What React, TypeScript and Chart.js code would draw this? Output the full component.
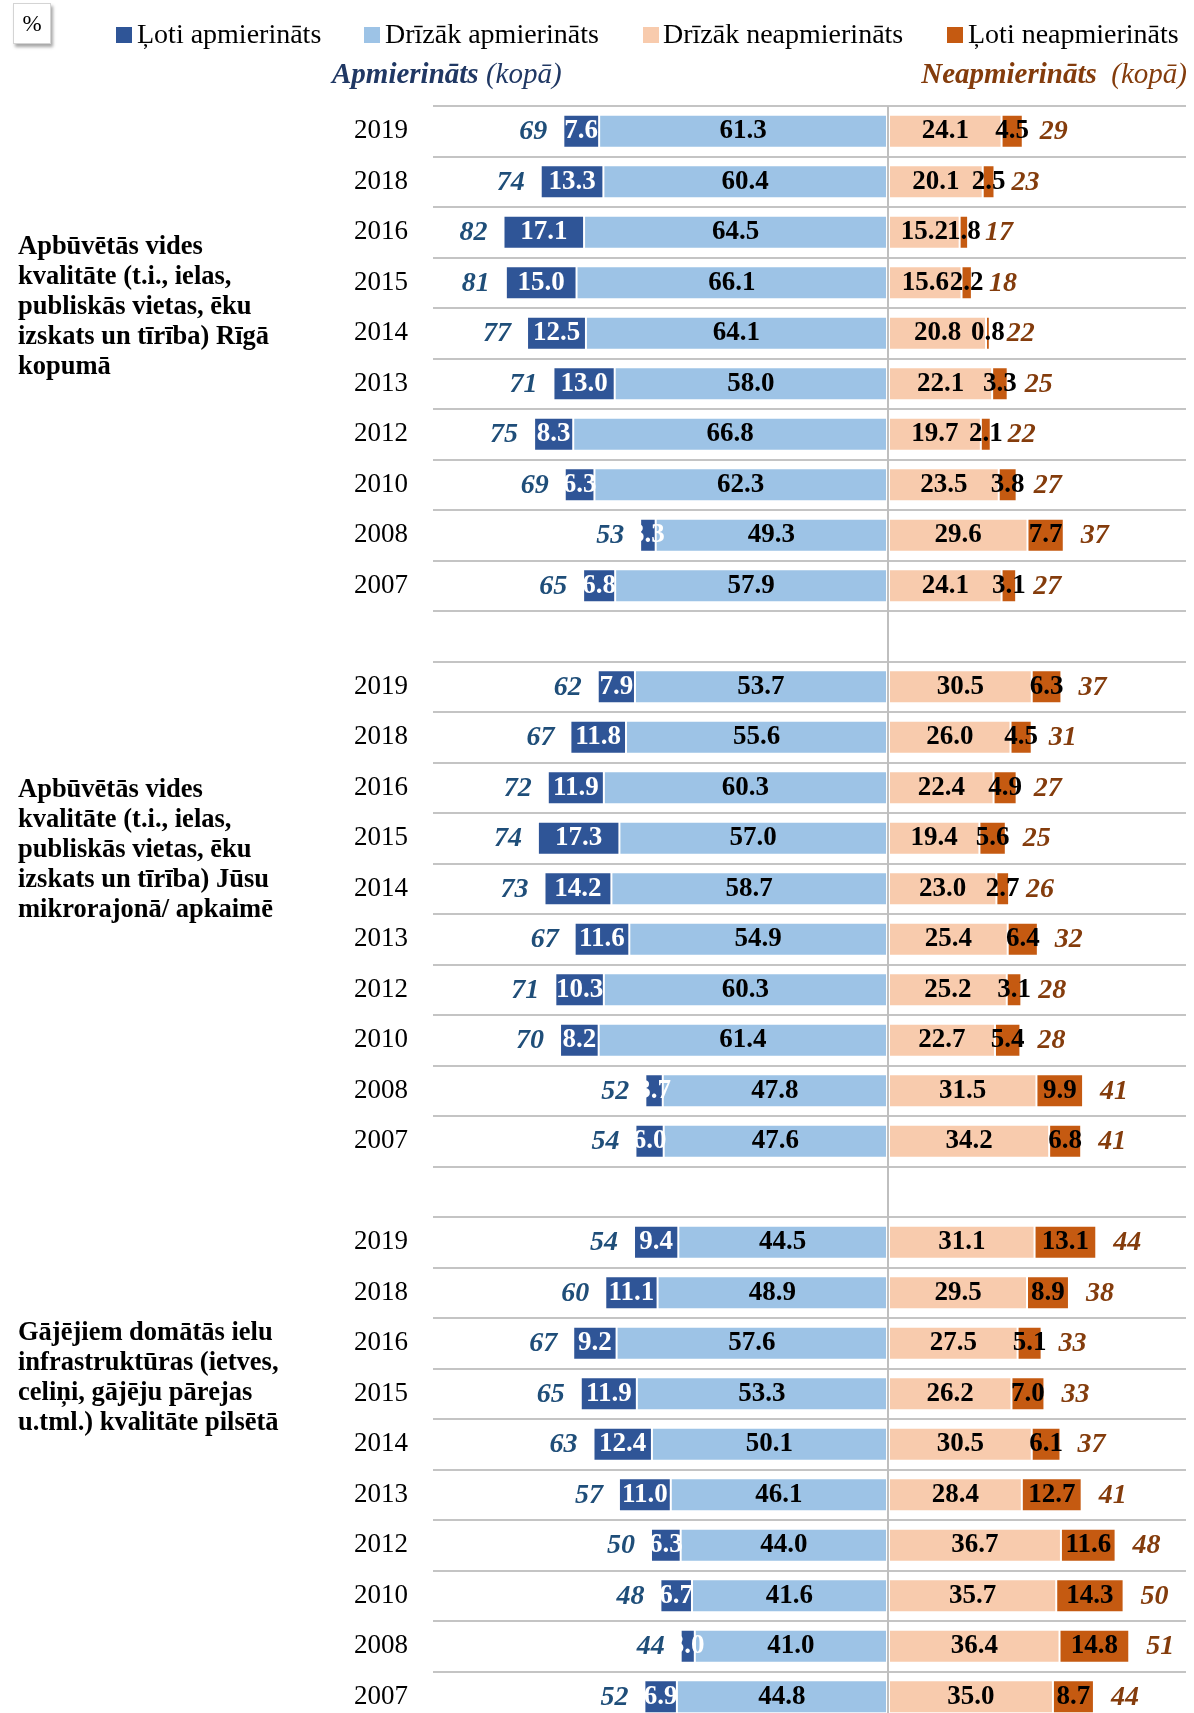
import React, { useEffect, useRef } from 'react';
import { Chart, registerables } from 'chart.js';

Chart.register(...registerables);

const SERIF = '"Liberation Serif", "Times New Roman", serif';

// Years (rows inside each block)
const years = ['2019', '2018', '2016', '2015', '2014', '2013', '2012', '2010', '2008', '2007'];

// Block 1: Apbūvētās vides kvalitāte ... Rīgā kopumā
const g1VerySat = [7.6, 13.3, 17.1, 15.0, 12.5, 13.0, 8.3, 6.3, 3.3, 6.8];
const g1RatherSat = [61.3, 60.4, 64.5, 66.1, 64.1, 58.0, 66.8, 62.3, 49.3, 57.9];
const g1RatherDis = [24.1, 20.1, 15.2, 15.6, 20.8, 22.1, 19.7, 23.5, 29.6, 24.1];
const g1VeryDis = [4.5, 2.5, 1.8, 2.2, 0.8, 3.3, 2.1, 3.8, 7.7, 3.1];
const g1TotalSat = [69, 74, 82, 81, 77, 71, 75, 69, 53, 65];
const g1TotalDis = [29, 23, 17, 18, 22, 25, 22, 27, 37, 27];

// Block 2: ... Jūsu mikrorajonā/ apkaimē
const g2VerySat = [7.9, 11.8, 11.9, 17.3, 14.2, 11.6, 10.3, 8.2, 3.7, 6.0];
const g2RatherSat = [53.7, 55.6, 60.3, 57.0, 58.7, 54.9, 60.3, 61.4, 47.8, 47.6];
const g2RatherDis = [30.5, 26.0, 22.4, 19.4, 23.0, 25.4, 25.2, 22.7, 31.5, 34.2];
const g2VeryDis = [6.3, 4.5, 4.9, 5.6, 2.7, 6.4, 3.1, 5.4, 9.9, 6.8];
const g2TotalSat = [62, 67, 72, 74, 73, 67, 71, 70, 52, 54];
const g2TotalDis = [37, 31, 27, 25, 26, 32, 28, 28, 41, 41];

// Block 3: Gājējiem domātās ielu infrastruktūras ... kvalitāte pilsētā
const g3VerySat = [9.4, 11.1, 9.2, 11.9, 12.4, 11.0, 6.3, 6.7, 3.0, 6.9];
const g3RatherSat = [44.5, 48.9, 57.6, 53.3, 50.1, 46.1, 44.0, 41.6, 41.0, 44.8];
const g3RatherDis = [31.1, 29.5, 27.5, 26.2, 30.5, 28.4, 36.7, 35.7, 36.4, 35.0];
const g3VeryDis = [13.1, 8.9, 5.1, 7.0, 6.1, 12.7, 11.6, 14.3, 14.8, 8.7];
const g3TotalSat = [54, 60, 67, 65, 63, 57, 50, 48, 44, 52];
const g3TotalDis = [44, 38, 33, 33, 37, 41, 48, 50, 51, 44];

const legendLabels = ['Ļoti apmierināts', 'Drīzāk apmierināts', 'Drīzāk neapmierināts', 'Ļoti neapmierināts'];
const blockTitles = [
  ['Apbūvētās vides', 'kvalitāte (t.i., ielas,', 'publiskās vietas, ēku', 'izskats un tīrība) Rīgā', 'kopumā'],
  ['Apbūvētās vides', 'kvalitāte (t.i., ielas,', 'publiskās vietas, ēku', 'izskats un tīrība) Jūsu', 'mikrorajonā/ apkaimē'],
  ['Gājējiem domātās ielu', 'infrastruktūras (ietves,', 'celiņi, gājēju pārejas', 'u.tml.) kvalitāte pilsētā'],
];

const COL_VERY_SAT = '#2F5597';
const COL_RATHER_SAT = '#9DC3E6';
const COL_RATHER_DIS = '#F8CBAD';
const COL_VERY_DIS = '#C55A11';

type N = number | null;
const join = (a: N[], b: N[], c: N[]): N[] => [...a, null, ...b, null, ...c];
const neg = (arr: N[]): N[] => arr.map((v) => (v == null ? null : -v));

const categories = [...years, '', ...years, '', ...years];
const verySat = join(g1VerySat, g2VerySat, g3VerySat);
const ratherSat = join(g1RatherSat, g2RatherSat, g3RatherSat);
const ratherDis = join(g1RatherDis, g2RatherDis, g3RatherDis);
const veryDis = join(g1VeryDis, g2VeryDis, g3VeryDis);
const totalSat = join(g1TotalSat, g2TotalSat, g3TotalSat);
const totalDis = join(g1TotalDis, g2TotalDis, g3TotalDis);

const labelColors = ['#000000', '#FFFFFF', '#000000', '#000000'];

const labelPlugin = {
  id: 'segmentLabels',
  afterDatasetsDraw(chart: any) {
    const ctx = chart.ctx;
    ctx.save();
    ctx.textBaseline = 'middle';
    ctx.textAlign = 'center';
    ctx.font = `bold 27px ${SERIF}`;
    chart.data.datasets.forEach((ds: any, di: number) => {
      const meta = chart.getDatasetMeta(di);
      meta.data.forEach((el: any, i: number) => {
        const v = ds.data[i];
        if (v == null) return;
        const p = el.getProps(['x', 'base', 'y'], true);
        ctx.fillStyle = labelColors[di];
        ctx.fillText(Math.abs(v).toFixed(1), (p.x + p.base) / 2, p.y);
      });
    });
    const leftMeta = chart.getDatasetMeta(1);
    const rightMeta = chart.getDatasetMeta(3);
    categories.forEach((_, i) => {
      const ts = totalSat[i];
      const td = totalDis[i];
      if (ts != null) {
        const p = leftMeta.data[i].getProps(['x', 'y'], true);
        ctx.textAlign = 'right';
        ctx.font = `italic bold 28px ${SERIF}`;
        ctx.fillStyle = '#1F4E79';
        ctx.fillText(String(ts), p.x - 16, p.y + 1);
      }
      if (td != null) {
        const p = rightMeta.data[i].getProps(['x', 'y'], true);
        ctx.textAlign = 'left';
        ctx.font = `italic bold 28px ${SERIF}`;
        ctx.fillStyle = '#843C0C';
        ctx.fillText(String(td), p.x + 17, p.y + 1);
      }
    });
    ctx.restore();
  },
};

export default function App() {
  const ref = useRef<HTMLCanvasElement>(null);

  useEffect(() => {
    const canvas = ref.current;
    if (!canvas) return;
    const barCommon = {
      barPercentage: 0.653,
      categoryPercentage: 1,
      borderWidth: 1,
      borderColor: 'rgba(255,255,255,0.75)',
      borderSkipped: false,
    };
    const chart = new Chart(canvas, {
      type: 'bar',
      data: {
        labels: categories,
        datasets: [
          { label: legendLabels[1], data: neg(ratherSat), backgroundColor: COL_RATHER_SAT, ...barCommon },
          { label: legendLabels[0], data: neg(verySat), backgroundColor: COL_VERY_SAT, ...barCommon },
          { label: legendLabels[2], data: ratherDis, backgroundColor: COL_RATHER_DIS, ...barCommon },
          { label: legendLabels[3], data: veryDis, backgroundColor: COL_VERY_DIS, ...barCommon },
        ] as any,
      },
      options: {
        responsive: false,
        animation: false,
        devicePixelRatio: 1,
        indexAxis: 'y',
        layout: { padding: { top: 106, right: 8, bottom: 8, left: 0 } },
        plugins: { legend: { display: false }, tooltip: { enabled: false } },
        scales: {
          x: {
            stacked: true,
            min: -96.56,
            max: 63.24,
            ticks: { display: false, stepSize: 10 },
            grid: {
              drawTicks: false,
              z: 1,
              lineWidth: 2,
              color: (c: any) => (c.tick && c.tick.value === 0 ? '#BFBFBF' : 'rgba(0,0,0,0)'),
            },
            border: { display: false },
            afterFit: (s: any) => {
              s.height = 0;
              s.paddingLeft = 0;
              s.paddingRight = 0;
            },
          },
          y: {
            stacked: true,
            ticks: { autoSkip: false, padding: 25, color: '#000000', font: { family: SERIF, size: 27 } },
            grid: { offset: true, drawTicks: false, lineWidth: 2, color: '#C4C4C4' },
            border: { display: false },
            afterFit: (s: any) => {
              s.width = 433;
              s.paddingTop = 0;
              s.paddingBottom = 0;
            },
          },
        },
      } as any,
      plugins: [labelPlugin],
    });
    return () => chart.destroy();
  }, []);

  const legendPos = [
    { sq: 116, tx: 137, color: COL_VERY_SAT },
    { sq: 364, tx: 385, color: COL_RATHER_SAT },
    { sq: 643, tx: 663, color: COL_RATHER_DIS },
    { sq: 947, tx: 968, color: COL_VERY_DIS },
  ];
  const titleTops = [230, 773, 1316];

  return (
    <div
      style={{
        position: 'absolute',
        left: 0,
        top: 0,
        width: 1194,
        height: 1713,
        overflow: 'hidden',
        background: '#ffffff',
        fontFamily: SERIF,
        color: '#000',
      }}
    >
      <canvas
        ref={ref}
        width={1194}
        height={1730}
        style={{ position: 'absolute', left: 0, top: 0, width: 1194, height: 1730 }}
      />
      <div
        style={{
          position: 'absolute',
          left: 13,
          top: 3,
          width: 38,
          height: 41,
          boxSizing: 'border-box',
          border: '1px solid #d4d4d4',
          background: '#fff',
          boxShadow: '2px 3px 3px rgba(0,0,0,0.35)',
          fontSize: 23,
          lineHeight: '39px',
          textAlign: 'center',
        }}
      >
        %
      </div>
      {legendPos.map((p, i) => (
        <React.Fragment key={i}>
          <div
            style={{ position: 'absolute', left: p.sq, top: 27, width: 16, height: 16, background: p.color }}
          />
          <div
            style={{ position: 'absolute', left: p.tx, top: 18, fontSize: 28, lineHeight: '31px', whiteSpace: 'nowrap' }}
          >
            {legendLabels[i]}
          </div>
        </React.Fragment>
      ))}
      <div
        style={{
          position: 'absolute',
          left: 332,
          top: 57,
          fontSize: 29,
          lineHeight: '32px',
          whiteSpace: 'nowrap',
          fontStyle: 'italic',
          color: '#203864',
        }}
      >
        <span style={{ fontWeight: 'bold' }}>Apmierināts</span> (kopā)
      </div>
      <div
        style={{
          position: 'absolute',
          right: 7,
          top: 57,
          fontSize: 29,
          lineHeight: '32px',
          whiteSpace: 'pre',
          fontStyle: 'italic',
          color: '#843C0C',
        }}
      >
        <span style={{ fontWeight: 'bold' }}>Neapmierināts</span>{'  (kopā)'}
      </div>
      {blockTitles.map((lines, bi) => (
        <div
          key={bi}
          style={{
            position: 'absolute',
            left: 18,
            top: titleTops[bi],
            fontSize: 26.5,
            lineHeight: '30px',
            fontWeight: 'bold',
            whiteSpace: 'nowrap',
          }}
        >
          {lines.map((l, li) => (
            <div key={li}>{l}</div>
          ))}
        </div>
      ))}
    </div>
  );
}
